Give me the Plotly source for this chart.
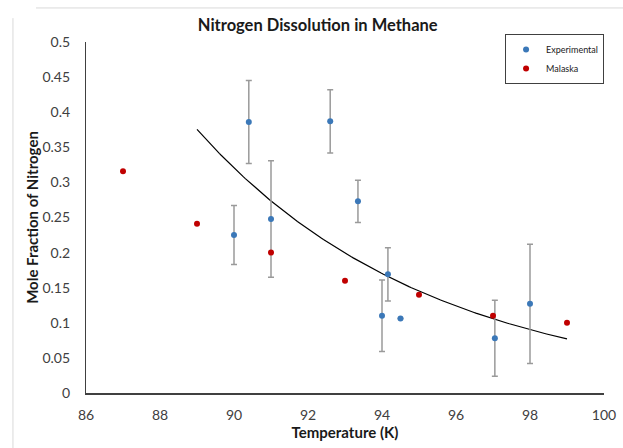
import numpy as np
import plotly.graph_objects as go

# Experimental data
exp_temp = [90.0, 90.4, 91.0, 92.6, 93.35, 94.0, 94.16, 94.5, 97.05, 98.0]
exp_frac = [0.225, 0.386, 0.248, 0.387, 0.273, 0.110, 0.169, 0.106, 0.078, 0.127]
exp_err = [0.042, 0.059, 0.083, 0.045, 0.030, 0.051, 0.038, 0.0, 0.054, 0.085]

# Malaska data
mal_temp = [87, 89, 91, 93, 95, 97, 99]
mal_frac = [0.316, 0.241, 0.200, 0.160, 0.140, 0.110, 0.100]

x_ticks = [86, 88, 90, 92, 94, 96, 98, 100]
y_ticks = [0, 0.05, 0.1, 0.15, 0.2, 0.25, 0.3, 0.35, 0.4, 0.45, 0.5]
y_tick_text = ["0", "0.05", "0.1", "0.15", "0.2", "0.25", "0.3", "0.35", "0.4", "0.45", "0.5"]

trend_start, trend_end = 89, 99

# Exponential trendline fitted to experimental data (Excel-style)
b, ln_a = np.polyfit(exp_temp, np.log(exp_frac), 1)
tx = np.linspace(trend_start, trend_end, 200)
ty = np.exp(ln_a + b * tx)

FONT = "Lato"
CLEAR = "rgba(0,0,0,0)"

fig = go.Figure()
fig.add_trace(go.Scatter(
    x=tx, y=ty, mode="lines", line=dict(color="black", width=1.2),
    showlegend=False, hoverinfo="skip"))
fig.add_trace(go.Scatter(
    x=exp_temp, y=exp_frac, mode="markers", name="Experimental",
    marker=dict(color="#3B78B8", size=6),
    error_y=dict(type="data", array=exp_err, visible=True,
                 color="#9a9a9a", thickness=1.5, width=3)))
fig.add_trace(go.Scatter(
    x=mal_temp, y=mal_frac, mode="markers", name="Malaska",
    marker=dict(color="#C00000", size=6)))

fig.update_layout(
    width=623, height=448,
    margin=dict(l=86, r=19, t=42, b=55),
    paper_bgcolor="white", plot_bgcolor="white",
    font=dict(family=FONT, color="#404040", size=14),
    title=dict(text="<b>Nitrogen Dissolution in Methane</b>",
               x=0.51, xanchor="center", y=0.944, yanchor="middle",
               font=dict(family=FONT, size=16.5, color="#1a1a1a")),
    xaxis=dict(range=[86, 100], tickvals=x_ticks, showgrid=False, zeroline=False,
               automargin=False,
               showline=True, linecolor="#404040", linewidth=1.5,
               ticks="outside", ticklen=8, tickcolor=CLEAR,
               tickfont=dict(size=14, color="#404040"),
               title=dict(text="<b>Temperature (K)</b>", standoff=6,
                          font=dict(size=15, color="#1a1a1a"))),
    yaxis=dict(range=[0, 0.5], tickvals=y_ticks, ticktext=y_tick_text,
               showgrid=False, zeroline=False,
               automargin=False,
               showline=True, linecolor="#404040", linewidth=1.2,
               ticks="outside", ticklen=12, tickcolor=CLEAR,
               tickfont=dict(size=14, color="#404040"),
               title=dict(text="<b>Mole Fraction of Nitrogen</b>", standoff=0,
                          font=dict(size=15, color="#1a1a1a"))),
    legend=dict(x=0.809, y=1.023, xanchor="left", yanchor="top",
                bordercolor="#404040", borderwidth=1, bgcolor="white",
                font=dict(size=9, color="#1a1a1a"), tracegroupgap=14,
                itemwidth=30),
    shapes=[
        dict(type="line", xref="paper", yref="paper",
             x0=-0.0965, x1=1.04, y0=1.097, y1=1.097,
             line=dict(color="#d9d9d9", width=1)),
        dict(type="line", xref="paper", yref="paper",
             x0=-0.141, x1=-0.141, y0=1.068, y1=-0.16,
             line=dict(color="#d9d9d9", width=1)),
    ],
)

fig.write_html("out.html")
